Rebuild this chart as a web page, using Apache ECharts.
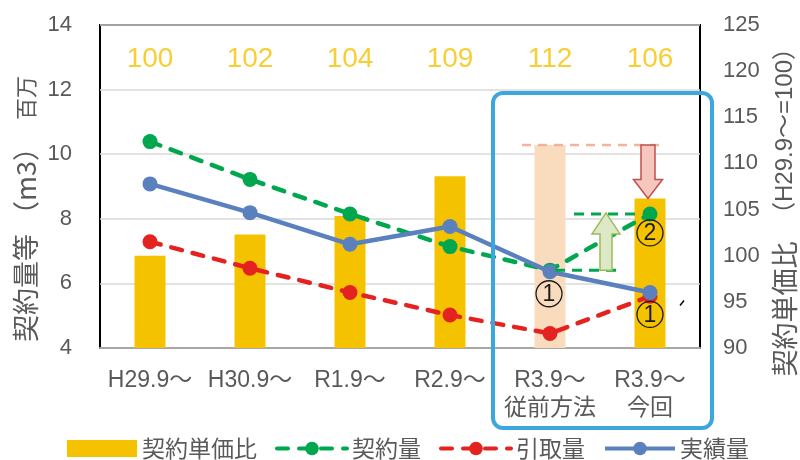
<!DOCTYPE html>
<html><head><meta charset="utf-8">
<script src="https://cdn.jsdelivr.net/npm/echarts/dist/echarts.min.js"></script>
<style>html,body{margin:0;padding:0;background:#fff}#c{width:800px;height:460px}</style>
</head><body><div id="c"></div>
<script>
// ---- data ----
const categories = ['H29.9～', 'H30.9～', 'R1.9～', 'R2.9～', 'R3.9～\n従前方法', 'R3.9～\n今回'];
const priceRatio = [100, 102.3, 104.3, 108.6, 112, 106.2];   // 契約単価比 (right axis)
const contractVol = [10.39, 9.22, 8.15, 7.14, 6.41, 8.15];   // 契約量 (百万m3)
const offtakeVol = [7.29, 6.47, 5.72, 5.02, 4.45, 5.6];      // 引取量
const actualVol = [9.08, 8.19, 7.21, 7.76, 6.36, 5.72];      // 実績量
const seriesNames = ['契約単価比', '契約量', '引取量', '実績量'];
const leftAxisTitle = ['契約量等', '（m3）'];
const leftUnit = '百万';
const rightAxisTitle = ['契約単価比', '（H29.9～=100）'];

// ---- style ----
const FONT = "'Liberation Sans','Noto Sans CJK JP',sans-serif";
const CJK = "'Noto Sans CJK JP','Liberation Sans',sans-serif";
const GOLD = '#F5C200', PEACH = '#F9DBBD';
const GREEN = '#00A74F', RED = '#E42320', BLUE = '#5A80BE';
const TXT = '#595959';
const LABEL_LEVEL = 121.3; // right-axis level at which ratio labels sit

const chart = echarts.init(document.getElementById('c'), null, {renderer: 'canvas'});

const option = {
  animation: false,
  backgroundColor: '#fff',
  textStyle: {fontFamily: FONT},
  grid: {left: 100, right: 100, top: 25, bottom: 112, show: true, borderColor: '#000', borderWidth: 2},
  legend: {
    left: 62, top: 432, itemWidth: 70, itemHeight: 17, itemGap: 18,
    textStyle: {fontSize: 23, color: TXT, fontFamily: CJK},
    lineStyle: {width: 4},
    data: [{name: seriesNames[0], icon: 'rect'}, seriesNames[1], seriesNames[2], seriesNames[3]]
  },
  xAxis: {
    type: 'category', data: categories,
    axisLine: {lineStyle: {color: '#A6A6A6', width: 2}},
    axisTick: {show: false},
    axisLabel: {margin: 19, fontSize: 23, lineHeight: 28, color: TXT, fontFamily: FONT, interval: 0}
  },
  yAxis: [
    {type: 'value', min: 4, max: 14, interval: 2, position: 'left',
     axisLine: {show: false}, axisTick: {show: false},
     axisLabel: {margin: 28, fontSize: 22, color: TXT, fontFamily: FONT},
     splitLine: {lineStyle: {color: '#D9D9D9', width: 1.5}}},
    {type: 'value', min: 90, max: 125, interval: 5, position: 'right',
     axisLine: {show: false}, axisTick: {show: false},
     axisLabel: {margin: 23, fontSize: 22, color: TXT, fontFamily: FONT},
     splitLine: {show: false}}
  ],
  series: [
    {name: seriesNames[0], type: 'bar', yAxisIndex: 1, barWidth: 31, z: 1,
     itemStyle: {color: GOLD},
     data: priceRatio.map((v, i) => i === 4 ? {value: v, itemStyle: {color: PEACH}} : v)},
    {name: 'ratioLabels', type: 'scatter', yAxisIndex: 1, symbolSize: 0, silent: true, z: 2,
     data: priceRatio.map((v, i) => [i, LABEL_LEVEL]),
     label: {show: true, position: 'inside', fontSize: 28, color: GOLD, fontFamily: FONT,
             formatter: p => String(Math.round(priceRatio[p.dataIndex]))}},
    {name: seriesNames[1], type: 'line', yAxisIndex: 0, data: contractVol, z: 3,
     symbol: 'circle', symbolSize: 15, itemStyle: {color: GREEN},
     lineStyle: {color: GREEN, width: 4.5, type: [11, 11], cap: 'round'}},
    {name: seriesNames[2], type: 'line', yAxisIndex: 0, data: offtakeVol, z: 4,
     symbol: 'circle', symbolSize: 15, itemStyle: {color: RED},
     lineStyle: {color: RED, width: 4.5, type: [11, 11], cap: 'round'}},
    {name: seriesNames[3], type: 'line', yAxisIndex: 0, data: actualVol, z: 5,
     symbol: 'circle', symbolSize: 15, itemStyle: {color: BLUE},
     lineStyle: {color: BLUE, width: 4.5}}
  ]
};
chart.setOption(option);

// ---- annotations derived from data through the chart's scales ----
const pR = (i, v) => chart.convertToPixel({seriesIndex: 0}, [i, v]);
const pL = (i, v) => chart.convertToPixel({seriesIndex: 2}, [i, v]);
const cx4 = pR(4, 100)[0], cx5 = pR(5, 100)[0];
const ySalmon = pR(4, priceRatio[4])[1];
const yBar6 = pR(5, priceRatio[5])[1];
const yGTop = pL(5, contractVol[5])[1];
const yGBot = pL(4, contractVol[4])[1];
const yB4 = pL(4, actualVol[4])[1];
const yB5 = pL(5, actualVol[5])[1];

function upArrow(cx, tip, bottom, hb, hh, headLen) {
  return [[cx, tip], [cx + hh, tip + headLen], [cx + hb, tip + headLen], [cx + hb, bottom],
          [cx - hb, bottom], [cx - hb, tip + headLen], [cx - hh, tip + headLen]];
}
function downArrow(cx, top, tip, hb, hh, headLen) {
  return [[cx - hb, top], [cx + hb, top], [cx + hb, tip - headLen], [cx + hh, tip - headLen],
          [cx, tip], [cx - hh, tip - headLen], [cx - hb, tip - headLen]];
}
function circled(digit, x, y) {
  return [
    {type: 'circle', z: 8, shape: {cx: x, cy: y, r: 13}, style: {fill: 'none', stroke: '#1a1a1a', lineWidth: 1.3}},
    {type: 'text', z: 8, x: x, y: y + 1,
     style: {text: digit, font: "23px 'Liberation Sans'", fill: '#1a1a1a', align: 'center', verticalAlign: 'middle'}}
  ];
}
function vtext(str, x, y, size, family) {
  return {type: 'text', x: x, y: y, rotation: Math.PI / 2,
          style: {text: str, font: size + 'px ' + family, fill: TXT, align: 'center', verticalAlign: 'middle'}};
}

const graphics = [
  {type: 'line', z: 6, shape: {x1: cx4 - 28, y1: ySalmon, x2: cx5 + 13, y2: ySalmon},
   style: {stroke: '#F4B29C', lineWidth: 2.5, lineDash: [9, 7]}},
  {type: 'line', z: 6, shape: {x1: cx5 - 76, y1: yGTop, x2: cx5 - 13, y2: yGTop},
   style: {stroke: GREEN, lineWidth: 3, lineDash: [10, 7]}},
  {type: 'line', z: 6, shape: {x1: cx4 + 5, y1: yGBot, x2: cx4 + 67, y2: yGBot},
   style: {stroke: GREEN, lineWidth: 3, lineDash: [10, 7]}},
  {type: 'polygon', z: 7, shape: {points: upArrow(cx4 + 56, yGTop - 1, yGBot, 6, 14, 21)},
   style: {fill: '#DDE8C6', stroke: '#9BBB59', lineWidth: 1.5}},
  {type: 'polygon', z: 7, shape: {points: downArrow(cx5 - 2, ySalmon, yBar6, 7, 14.5, 19)},
   style: {fill: '#F6C7BD', stroke: '#C0504D', lineWidth: 1.5}},
  ...circled('1', cx4 - 1, yB4 + 22),
  ...circled('2', cx5, yGTop + 19),
  ...circled('1', cx5, yB5 + 22),
  {type: 'line', z: 8, shape: {x1: cx5 + 30, y1: yB5 + 13, x2: cx5 + 34, y2: yB5 + 8},
   style: {stroke: '#000', lineWidth: 1.5}},
  {type: 'rect', z: 9, shape: {x: cx4 - 57, y: 93, width: (cx5 + 62) - (cx4 - 57), height: 335, r: 10},
   style: {fill: 'none', stroke: '#3BA7DD', lineWidth: 4}},
  // axis titles (read bottom to top)
  vtext(leftUnit, 25.5, 98, 22, "'Noto Sans CJK JP'"),
  vtext(leftAxisTitle[1], 25.5, 181, 27, "'Noto Sans CJK JP'"),
  vtext(leftAxisTitle[0], 25.5, 288, 27, "'Noto Sans CJK JP'"),
  vtext(rightAxisTitle[1], 785, 131, 24, "'Liberation Sans','Noto Sans CJK JP'"),
  vtext(rightAxisTitle[0], 785, 309, 27, "'Noto Sans CJK JP'")
];
chart.setOption({graphic: graphics});
</script>
</body></html>
